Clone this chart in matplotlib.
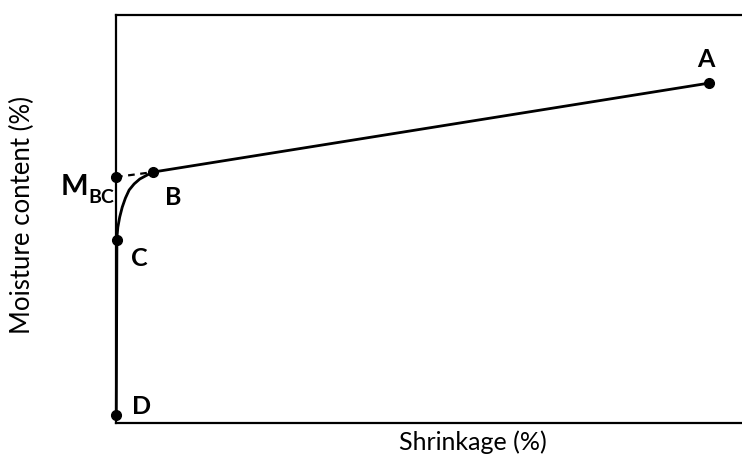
import matplotlib.pyplot as plt

plt.rcParams['font.family'] = ['Lato', 'DejaVu Sans']

# shrinkage (%) vs moisture content (%)
curve_x = [0.05, 0.15, 0.16, 0.3, 0.6, 1.0, 1.5, 2.1, 2.9, 3.8, 5.0, 5.9, 94.7]
curve_y = [2.0, 44.9, 45.6, 48.0, 50.5, 52.9, 55.1, 57.1, 58.6, 59.8, 60.8, 61.5, 83.3]

point_names = ['A', 'B', 'C', 'D']
point_x = [94.7, 5.9, 0.15, 0.05]
point_y = [83.3, 61.5, 44.9, 2.0]

mbc_x = [0.0, 5.9]
mbc_y = [60.3, 61.5]

fig = plt.figure(figsize=(7.42, 4.65), dpi=100)
ax = fig.add_axes([0.1563, 0.0903, 0.8437, 0.8774])

ax.plot(curve_x, curve_y, color='black', lw=2.0, clip_on=False, zorder=3,
        solid_joinstyle='round')
ax.plot(mbc_x, mbc_y, color='black', lw=1.6, ls=(0, (3, 2.5)), clip_on=False, zorder=3)
ax.plot(point_x, point_y, 'o', color='black', ms=7, clip_on=False, zorder=4)
ax.plot(mbc_x[:1], mbc_y[:1], 'o', color='black', ms=7, clip_on=False, zorder=4)

# point labels
ax.annotate('A', (point_x[0], point_y[0]), xytext=(-2, 9), textcoords='offset points',
            ha='center', va='bottom', fontsize=18, fontweight='bold')
ax.annotate('B', (point_x[1], point_y[1]), xytext=(9, -10), textcoords='offset points',
            ha='left', va='top', fontsize=18, fontweight='bold')
ax.annotate('C', (point_x[2], point_y[2]), xytext=(10, -5), textcoords='offset points',
            ha='left', va='top', fontsize=18, fontweight='bold')
ax.annotate('D', (point_x[3], point_y[3]), xytext=(11, -2), textcoords='offset points',
            ha='left', va='bottom', fontsize=18, fontweight='bold')
ax.annotate('M', (mbc_x[0], mbc_y[0]), xytext=(-20, -13), textcoords='offset points',
            ha='right', va='baseline', fontsize=21, fontweight='bold')
ax.annotate('BC', (mbc_x[0], mbc_y[0]), xytext=(-1, -18.5), textcoords='offset points',
            ha='right', va='baseline', fontsize=14, fontweight='bold')

ax.set_xlim(0, 100)
ax.set_ylim(0, 100)
ax.set_xticks([])
ax.set_yticks([])
ax.spines['right'].set_visible(False)
for s in ['left', 'top', 'bottom']:
    ax.spines[s].set_linewidth(1.6)

ax.set_xlabel('Shrinkage (%)', fontsize=18)
ax.set_ylabel('Moisture content (%)', fontsize=18.5)
ax.xaxis.set_label_coords(0.57, -0.017)
ax.yaxis.set_label_coords(-0.13, 0.51)

fig.savefig('out.png', dpi=100)
